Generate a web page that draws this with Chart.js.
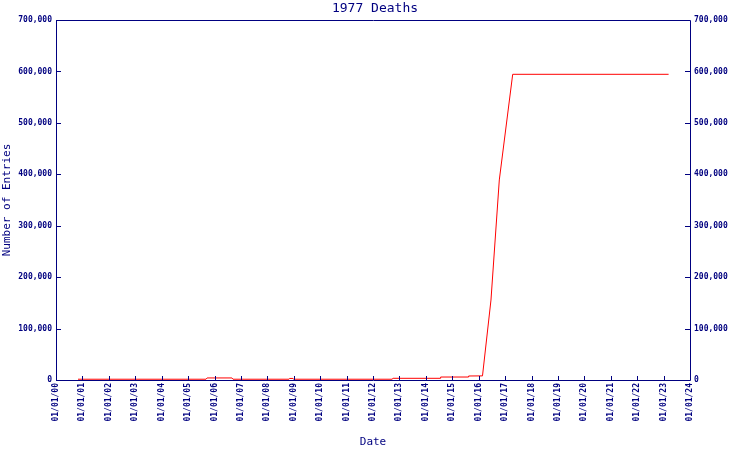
<!DOCTYPE html>
<html>
<head>
<meta charset="utf-8">
<script src="https://cdn.jsdelivr.net/npm/chart.js@4/dist/chart.umd.min.js"></script>
<style>
  html, body { margin: 0; padding: 0; background: #ffffff; }
  #wrap { width: 750px; height: 450px; }
</style>
</head>
<body>
<div id="wrap"><canvas id="c" width="750" height="450"></canvas></div>
<script>
// ---- data (x = years since 01/01/00) ----
const chartTitle = "1977 Deaths";
const xAxisTitle = "Date";
const yAxisTitle = "Number of Entries";
const xTickLabels = ["01/01/00","01/01/01","01/01/02","01/01/03","01/01/04","01/01/05","01/01/06","01/01/07","01/01/08","01/01/09","01/01/10","01/01/11","01/01/12","01/01/13","01/01/14","01/01/15","01/01/16","01/01/17","01/01/18","01/01/19","01/01/20","01/01/21","01/01/22","01/01/23","01/01/24"];
const dateYears = [0.833, 5.68, 5.72, 6.66, 6.70, 8.82, 8.84, 8.97, 9.0, 12.72, 12.76, 14.54, 14.56, 15.60, 15.62, 16.145, 16.466, 16.781, 17.288, 23.19];
const entries   = [1500, 1500, 4000, 4000, 1500, 1500, 3000, 3000, 1500, 1500, 3300, 3300, 5800, 5800, 7800, 8000, 155500, 389000, 594400, 594400];
const yMin = 0, yMax = 700000, yStep = 100000;

const NAVY = "#000080";
const FONT = "'DejaVu Sans Mono', 'Liberation Mono', monospace";

const points = dateYears.map((x, i) => ({ x: x, y: entries[i] }));

const framePlugin = {
  id: "frame",
  afterDraw(chart) {
    const { ctx, chartArea: a, scales } = chart;
    ctx.save();
    ctx.strokeStyle = NAVY;
    ctx.lineWidth = 1;
    ctx.beginPath();
    ctx.rect(Math.round(a.left) + 0.5, Math.round(a.top) + 0.5,
             Math.round(a.right) - Math.round(a.left), Math.round(a.bottom) - Math.round(a.top));
    // inside ticks: left & right y axes
    const yl = scales.y, yr = scales.y2, xs = scales.x;
    yl.ticks.forEach(t => {
      const py = Math.round(yl.getPixelForValue(t.value)) + 0.5;
      ctx.moveTo(Math.round(a.left), py); ctx.lineTo(Math.round(a.left) + 5, py);
    });
    yr.ticks.forEach(t => {
      const py = Math.round(yr.getPixelForValue(t.value)) + 0.5;
      ctx.moveTo(Math.round(a.right) - 5, py); ctx.lineTo(Math.round(a.right), py);
    });
    xs.ticks.forEach(t => {
      const px = Math.round(xs.getPixelForValue(t.value)) + 0.5;
      ctx.moveTo(px, Math.round(a.bottom) - 4); ctx.lineTo(px, Math.round(a.bottom));
    });
    ctx.stroke();
    ctx.restore();
  }
};

const tickFont = { family: FONT, size: 8, weight: "bold" };

new Chart(document.getElementById("c"), {
  type: "line",
  data: {
    datasets: [{
      data: points,
      borderColor: "#ff0000",
      backgroundColor: "#ff0000",
      borderWidth: 1,
      pointRadius: 0,
      tension: 0,
      fill: false
    }]
  },
  options: {
    responsive: false,
    animation: false,
    devicePixelRatio: 1,
    layout: { padding: 0 },
    plugins: {
      legend: { display: false },
      tooltip: { enabled: false },
      title: {
        display: true,
        text: chartTitle,
        color: NAVY,
        font: { family: FONT, size: 13, weight: "normal", lineHeight: 1.2 },
        padding: { top: 1, bottom: 3.4 }
      }
    },
    scales: {
      x: {
        type: "linear",
        position: "bottom",
        min: 0, max: xTickLabels.length - 1,
        grid: { display: false, drawTicks: false },
        border: { display: false },
        ticks: {
          stepSize: 1,
          autoSkip: false,
          minRotation: 90, maxRotation: 90,
          padding: 3,
          color: NAVY,
          font: tickFont,
          callback: (v) => xTickLabels[v]
        },
        title: {
          display: true, text: xAxisTitle, color: NAVY,
          font: { family: FONT, size: 11, lineHeight: 1.2 },
          padding: { top: 0, bottom: 1 }
        },
        afterFit(s) { s.height = 70; }
      },
      y: {
        type: "linear",
        position: "left",
        min: yMin, max: yMax,
        grid: { display: false, drawTicks: false },
        border: { display: false },
        ticks: {
          stepSize: yStep, padding: 4, color: NAVY, font: tickFont,
          callback: (v) => v.toLocaleString("en-US")
        },
        title: {
          display: true, text: yAxisTitle, color: NAVY,
          font: { family: FONT, size: 11, lineHeight: 1.2 },
          padding: { top: 1, bottom: 0 }
        },
        afterFit(s) { s.width = 56; }
      },
      y2: {
        type: "linear",
        position: "right",
        min: yMin, max: yMax,
        grid: { display: false, drawTicks: false },
        border: { display: false },
        ticks: {
          stepSize: yStep, padding: 4, color: NAVY, font: tickFont,
          callback: (v) => v.toLocaleString("en-US")
        },
        afterFit(s) { s.width = 60; }
      }
    }
  },
  plugins: [framePlugin]
});
</script>
</body>
</html>
